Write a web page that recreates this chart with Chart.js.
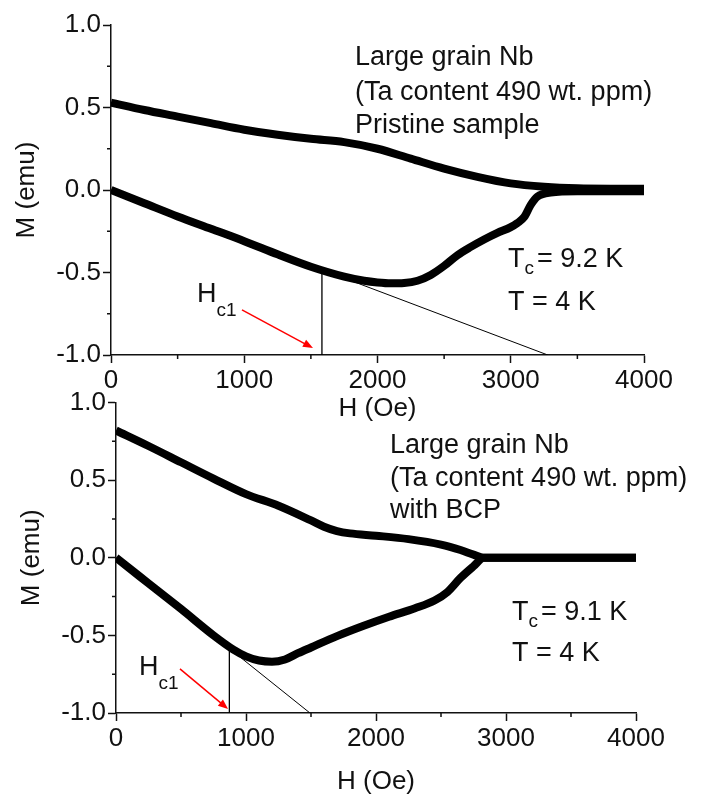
<!DOCTYPE html>
<html>
<head>
<meta charset="utf-8">
<script src="https://cdn.jsdelivr.net/npm/chart.js@4.4.1/dist/chart.umd.min.js"></script>
<style>
  body { margin: 0; background: #fff; width: 704px; height: 797px; position: relative; overflow: hidden; }
  canvas { position: absolute; left: 0; }
  #topChart { top: 0; }
  #botChart { top: 380px; }
</style>
</head>
<body>
<canvas id="topChart" width="704" height="424"></canvas>
<canvas id="botChart" width="704" height="417"></canvas>
<script>
// ---- data: H in Oe, M in emu ----
const xTicks = [0, 1000, 2000, 3000, 4000];
const yTicks = [-1.0, -0.5, 0.0, 0.5, 1.0];

// top panel: pristine sample
const topUpH = [0, 250, 500, 750, 1000, 1250, 1500, 1750, 2000, 2250, 2500, 2750, 3000, 3250, 3500, 3750, 4000];
const topUpM = [0.53, 0.485, 0.445, 0.405, 0.365, 0.335, 0.31, 0.29, 0.25, 0.19, 0.13, 0.08, 0.04, 0.02, 0.01, 0.008, 0.008];
const topLowH = [0, 250, 500, 750, 1000, 1250, 1500, 1750, 1900, 2000, 2100, 2200, 2300, 2400, 2500, 2600, 2700, 2800, 2900, 3000, 3050, 3100, 3150, 3200, 3300, 3500, 4000];
const topLowM = [0, -0.08, -0.16, -0.235, -0.31, -0.39, -0.465, -0.525, -0.55, -0.56, -0.565, -0.563, -0.55, -0.515, -0.46, -0.395, -0.345, -0.30, -0.26, -0.225, -0.20, -0.165, -0.09, -0.04, -0.015, -0.008, -0.008];
const topFitH = [0, 3278];
const topFitM = [0, -1];
const topHc1H = [1583, 1583];
const topHc1M = [-0.483, -1];

// bottom panel: with BCP
const botUpH = [0, 250, 500, 750, 1000, 1250, 1500, 1600, 1700, 1800, 2000, 2250, 2500, 2650, 2750, 2830, 3000, 4000];
const botUpM = [0.82, 0.72, 0.615, 0.51, 0.41, 0.335, 0.24, 0.20, 0.172, 0.157, 0.142, 0.12, 0.085, 0.05, 0.02, 0, 0, 0];
const botLowH = [0, 250, 500, 750, 900, 1000, 1100, 1200, 1300, 1400, 1500, 1700, 1900, 2100, 2300, 2450, 2550, 2650, 2750, 2830, 3000, 4000];
const botLowM = [0, -0.165, -0.33, -0.5, -0.59, -0.635, -0.662, -0.67, -0.655, -0.615, -0.578, -0.505, -0.44, -0.38, -0.325, -0.275, -0.22, -0.13, -0.055, 0, 0, 0];
const botFitH = [0, 1492];
const botFitM = [0, -1];
const botHc1H = [872, 872];
const botHc1M = [-0.587, -1];

const FONT = '"Liberation Sans", Arial, sans-serif';
const INK = '#111';

function pts(hs, ms) {
  return hs.map((h, i) => ({x: h, y: ms[i]}));
}

// thick black measured curve
function curve(hs, ms) {
  return {
    data: pts(hs, ms), order: 0, showLine: true,
    borderColor: '#000', backgroundColor: '#000', borderWidth: 8,
    pointRadius: 0, cubicInterpolationMode: 'monotone', borderJoinStyle: 'round'
  };
}

// thin black guide line
function guide(hs, ms, w) {
  return {
    data: pts(hs, ms), order: 1, showLine: true,
    borderColor: '#000', backgroundColor: '#000', borderWidth: w, pointRadius: 0
  };
}

// small inner ticks between the labelled ones
const minorTicks = {
  id: 'minorTicks',
  afterDraw(chart) {
    const ctx = chart.ctx;
    const {x, y} = chart.scales;
    const area = chart.chartArea;
    ctx.save();
    ctx.strokeStyle = INK;
    ctx.lineWidth = 1.5;
    ctx.beginPath();
    for (let i = 0; i < xTicks.length - 1; i++) {
      const px = x.getPixelForValue((xTicks[i] + xTicks[i + 1]) / 2);
      ctx.moveTo(px, area.bottom);
      ctx.lineTo(px, area.bottom + 4);
    }
    for (let i = 0; i < yTicks.length - 1; i++) {
      const py = y.getPixelForValue((yTicks[i] + yTicks[i + 1]) / 2);
      ctx.moveTo(area.left, py);
      ctx.lineTo(area.left - 4, py);
    }
    ctx.stroke();
    ctx.restore();
  }
};

// red arrows and text notes, placed in data units
const notes = {
  id: 'notes',
  afterDraw(chart, args, opts) {
    const ctx = chart.ctx;
    const {x, y} = chart.scales;
    ctx.save();
    for (const a of opts.arrows || []) {
      const x0 = x.getPixelForValue(a.from[0]), y0 = y.getPixelForValue(a.from[1]);
      const x1 = x.getPixelForValue(a.to[0]), y1 = y.getPixelForValue(a.to[1]);
      const ang = Math.atan2(y1 - y0, x1 - x0);
      ctx.strokeStyle = '#f00';
      ctx.fillStyle = '#f00';
      ctx.lineWidth = 1.5;
      ctx.beginPath();
      ctx.moveTo(x0, y0);
      ctx.lineTo(x1 - 8 * Math.cos(ang), y1 - 8 * Math.sin(ang));
      ctx.stroke();
      ctx.beginPath();
      ctx.moveTo(x1, y1);
      ctx.lineTo(x1 - 10 * Math.cos(ang) + 4 * Math.sin(ang), y1 - 10 * Math.sin(ang) - 4 * Math.cos(ang));
      ctx.lineTo(x1 - 10 * Math.cos(ang) - 4 * Math.sin(ang), y1 - 10 * Math.sin(ang) + 4 * Math.cos(ang));
      ctx.closePath();
      ctx.fill();
    }
    ctx.fillStyle = INK;
    ctx.textBaseline = 'middle';
    ctx.textAlign = 'left';
    for (const n of opts.texts || []) {
      let px = x.getPixelForValue(n.at[0]);
      const py = y.getPixelForValue(n.at[1]);
      for (const part of n.parts) {
        const size = part.sub ? n.subSize : n.size;
        ctx.font = size + 'px ' + FONT;
        ctx.fillText(part.t, px, py + (part.sub ? n.subDrop : 0));
        px += ctx.measureText(part.t).width + (part.gap || 0);
      }
    }
    ctx.restore();
  }
};

function makePanel(canvasId, p) {
  return new Chart(document.getElementById(canvasId), {
    type: 'scatter',
    data: {
      datasets: [
        curve(p.upH, p.upM),
        curve(p.lowH, p.lowM),
        guide(p.fitH, p.fitM, 1),
        guide(p.hc1H, p.hc1M, 1.3)
      ]
    },
    options: {
      responsive: false,
      animation: false,
      devicePixelRatio: 1,
      layout: {padding: {top: p.padTop, right: p.padRight, left: 0, bottom: 0}},
      plugins: {
        legend: {display: false},
        tooltip: {enabled: false},
        colors: {enabled: false},
        notes: {arrows: p.arrows, texts: p.texts}
      },
      scales: {
        x: {
          type: 'linear', min: 0, max: 4000,
          afterBuildTicks: s => { s.ticks = xTicks.map(v => ({value: v})); },
          ticks: {callback: v => String(v), font: {family: FONT, size: 26}, color: INK, padding: 2, maxRotation: 0},
          grid: {drawOnChartArea: false, tickLength: 8, tickColor: INK, tickWidth: 1.5},
          border: {color: INK, width: 1.5},
          title: {display: true, text: 'H (Oe)', font: {family: FONT, size: 26}, color: INK, padding: {top: 0, bottom: 0}},
          afterFit: s => { s.height = p.xH; }
        },
        y: {
          type: 'linear', min: -1, max: 1,
          afterBuildTicks: s => { s.ticks = yTicks.map(v => ({value: v})); },
          ticks: {callback: v => v.toFixed(1), font: {family: FONT, size: 26}, color: INK, padding: 2},
          grid: {drawOnChartArea: false, tickLength: 8, tickColor: INK, tickWidth: 1.5},
          border: {color: INK, width: 1.5},
          title: {display: true, text: 'M (emu)', font: {family: FONT, size: 26}, color: INK, padding: {top: p.yTitlePad, bottom: 0}},
          afterFit: s => { s.width = p.yW; }
        }
      }
    },
    plugins: [minorTicks, notes]
  });
}

const bigText = 27;

makePanel('topChart', {
  upH: topUpH, upM: topUpM, lowH: topLowH, lowM: topLowM,
  fitH: topFitH, fitM: topFitM, hc1H: topHc1H, hc1M: topHc1M,
  padTop: 25, padRight: 60, xH: 69, yW: 111, yTitlePad: 11,
  arrows: [{from: [983, -0.727], to: [1516, -0.958]}],
  texts: [
    {at: [1831, 0.80], size: bigText, parts: [{t: 'Large grain Nb'}]},
    {at: [1831, 0.59], size: bigText, parts: [{t: '(Ta content 490 wt. ppm)'}]},
    {at: [1831, 0.39], size: bigText, parts: [{t: 'Pristine sample'}]},
    {at: [2979, -0.424], size: bigText, subSize: 19, subDrop: 9, parts: [{t: 'T'}, {t: 'c', sub: true, gap: 3}, {t: '= 9.2 K'}]},
    {at: [2979, -0.685], size: bigText, parts: [{t: 'T = 4 K'}]},
    {at: [645, -0.636], size: bigText, subSize: 19, subDrop: 16, parts: [{t: 'H'}, {t: 'c1', sub: true}]}
  ]
});

makePanel('botChart', {
  upH: botUpH, upM: botUpM, lowH: botLowH, lowM: botLowM,
  fitH: botFitH, fitM: botFitM, hc1H: botHc1H, hc1M: botHc1M,
  padTop: 22.5, padRight: 68, xH: 84, yW: 116, yTitlePad: 16,
  arrows: [{from: [492, -0.716], to: [862, -0.974]}],
  texts: [
    {at: [2108, 0.723], size: bigText, parts: [{t: 'Large grain Nb'}]},
    {at: [2108, 0.51], size: bigText, parts: [{t: '(Ta content 490 wt. ppm)'}]},
    {at: [2108, 0.303], size: bigText, parts: [{t: 'with BCP'}]},
    {at: [3046, -0.355], size: bigText, subSize: 19, subDrop: 9, parts: [{t: 'T'}, {t: 'c', sub: true, gap: 3}, {t: '= 9.1 K'}]},
    {at: [3046, -0.619], size: bigText, parts: [{t: 'T = 4 K'}]},
    {at: [177, -0.71], size: bigText, subSize: 19, subDrop: 16, parts: [{t: 'H'}, {t: 'c1', sub: true}]}
  ]
});
</script>
</body>
</html>
